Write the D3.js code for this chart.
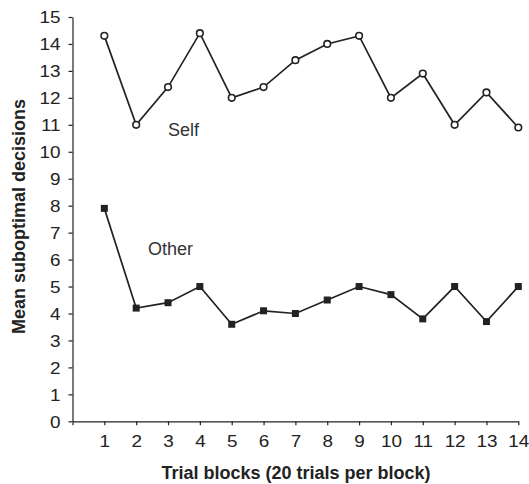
<!DOCTYPE html>
<html lang="en">
<head>
  <meta charset="UTF-8">
  <title>Mean suboptimal decisions</title>
  <style>
    body { margin: 0; background: #fff; font-family: "Liberation Sans", Arial, sans-serif; }
    svg { display: block; }
    .axis text { font-size: 16px; fill: #222; font-family: "Liberation Sans", Arial, sans-serif; }
    .axis path, .axis line { stroke: #222; stroke-width: 1.2; }
  </style>
</head>
<body>
  <svg width="529" height="484"></svg>
  <script src="https://d3js.org/d3.v7.min.js"></script>
  <script>
  const blocks = [1, 2, 3, 4, 5, 6, 7, 8, 9, 10, 11, 12, 13, 14];
  const selfValues = [14.3, 11.0, 12.4, 14.4, 12.0, 12.4, 13.4, 14.0, 14.3, 12.0, 12.9, 11.0, 12.2, 10.9];
  const otherValues = [7.9, 4.2, 4.4, 5.0, 3.6, 4.1, 4.0, 4.5, 5.0, 4.7, 3.8, 5.0, 3.7, 5.0];
  const yTicks = d3.range(0, 16);

  const svg = d3.select("svg");
  const ink = "#222";
  const stretch = 1.18; // tick digits in the original are wide

  const x = d3.scaleLinear().domain([0, 14]).range([72.5, 518.3]);
  const y = d3.scaleLinear().domain([0, 15]).range([421.3, 17]);

  // axes
  const gx = svg.append("g")
    .attr("class", "axis")
    .attr("transform", `translate(0,${y(0)})`)
    .call(d3.axisBottom(x).tickValues(d3.range(0, 15)).tickSize(4)
      .tickFormat(d => d === 0 ? "" : d).tickSizeOuter(0));
  gx.selectAll(".tick text")
    .attr("y", 0).attr("dy", 0)
    .attr("transform", `translate(0,26) scale(${stretch},1)`);

  const gy = svg.append("g")
    .attr("class", "axis")
    .attr("transform", `translate(${x(0)},0)`)
    .call(d3.axisLeft(y).tickValues(yTicks).tickSize(4).tickSizeOuter(0));
  gy.selectAll(".tick text")
    .attr("x", 0).attr("dy", "0.36em")
    .attr("transform", `translate(-12,0) scale(${stretch},1)`);

  // lines
  const line = d3.line().x((d, i) => x(blocks[i])).y(d => y(d));

  [selfValues, otherValues].forEach(vals => {
    svg.append("path")
      .datum(vals)
      .attr("d", line)
      .attr("fill", "none")
      .attr("stroke", ink)
      .attr("stroke-width", 1.7);
  });

  // markers
  svg.append("g").selectAll("circle")
    .data(selfValues)
    .join("circle")
    .attr("cx", (d, i) => x(blocks[i]))
    .attr("cy", d => y(d))
    .attr("r", 3.3)
    .attr("fill", "#fff")
    .attr("stroke", ink)
    .attr("stroke-width", 1.6);

  svg.append("g").selectAll("rect")
    .data(otherValues)
    .join("rect")
    .attr("x", (d, i) => x(blocks[i]) - 3.5)
    .attr("y", d => y(d) - 3.5)
    .attr("width", 7)
    .attr("height", 7)
    .attr("fill", ink);

  // series labels
  svg.append("text")
    .attr("x", 168)
    .attr("y", 135.5)
    .attr("font-size", 18)
    .attr("fill", "#333")
    .text("Self");

  svg.append("text")
    .attr("x", 148)
    .attr("y", 255)
    .attr("font-size", 18)
    .attr("fill", "#333")
    .text("Other");

  // axis titles
  svg.append("text")
    .attr("x", 296)
    .attr("y", 479)
    .attr("text-anchor", "middle")
    .attr("font-size", 18)
    .attr("font-weight", "bold")
    .attr("fill", ink)
    .text("Trial blocks (20 trials per block)");

  svg.append("text")
    .attr("transform", "translate(24.5,216.5) rotate(-90)")
    .attr("text-anchor", "middle")
    .attr("font-size", 18)
    .attr("font-weight", "bold")
    .attr("fill", ink)
    .text("Mean suboptimal decisions");
  </script>
</body>
</html>
